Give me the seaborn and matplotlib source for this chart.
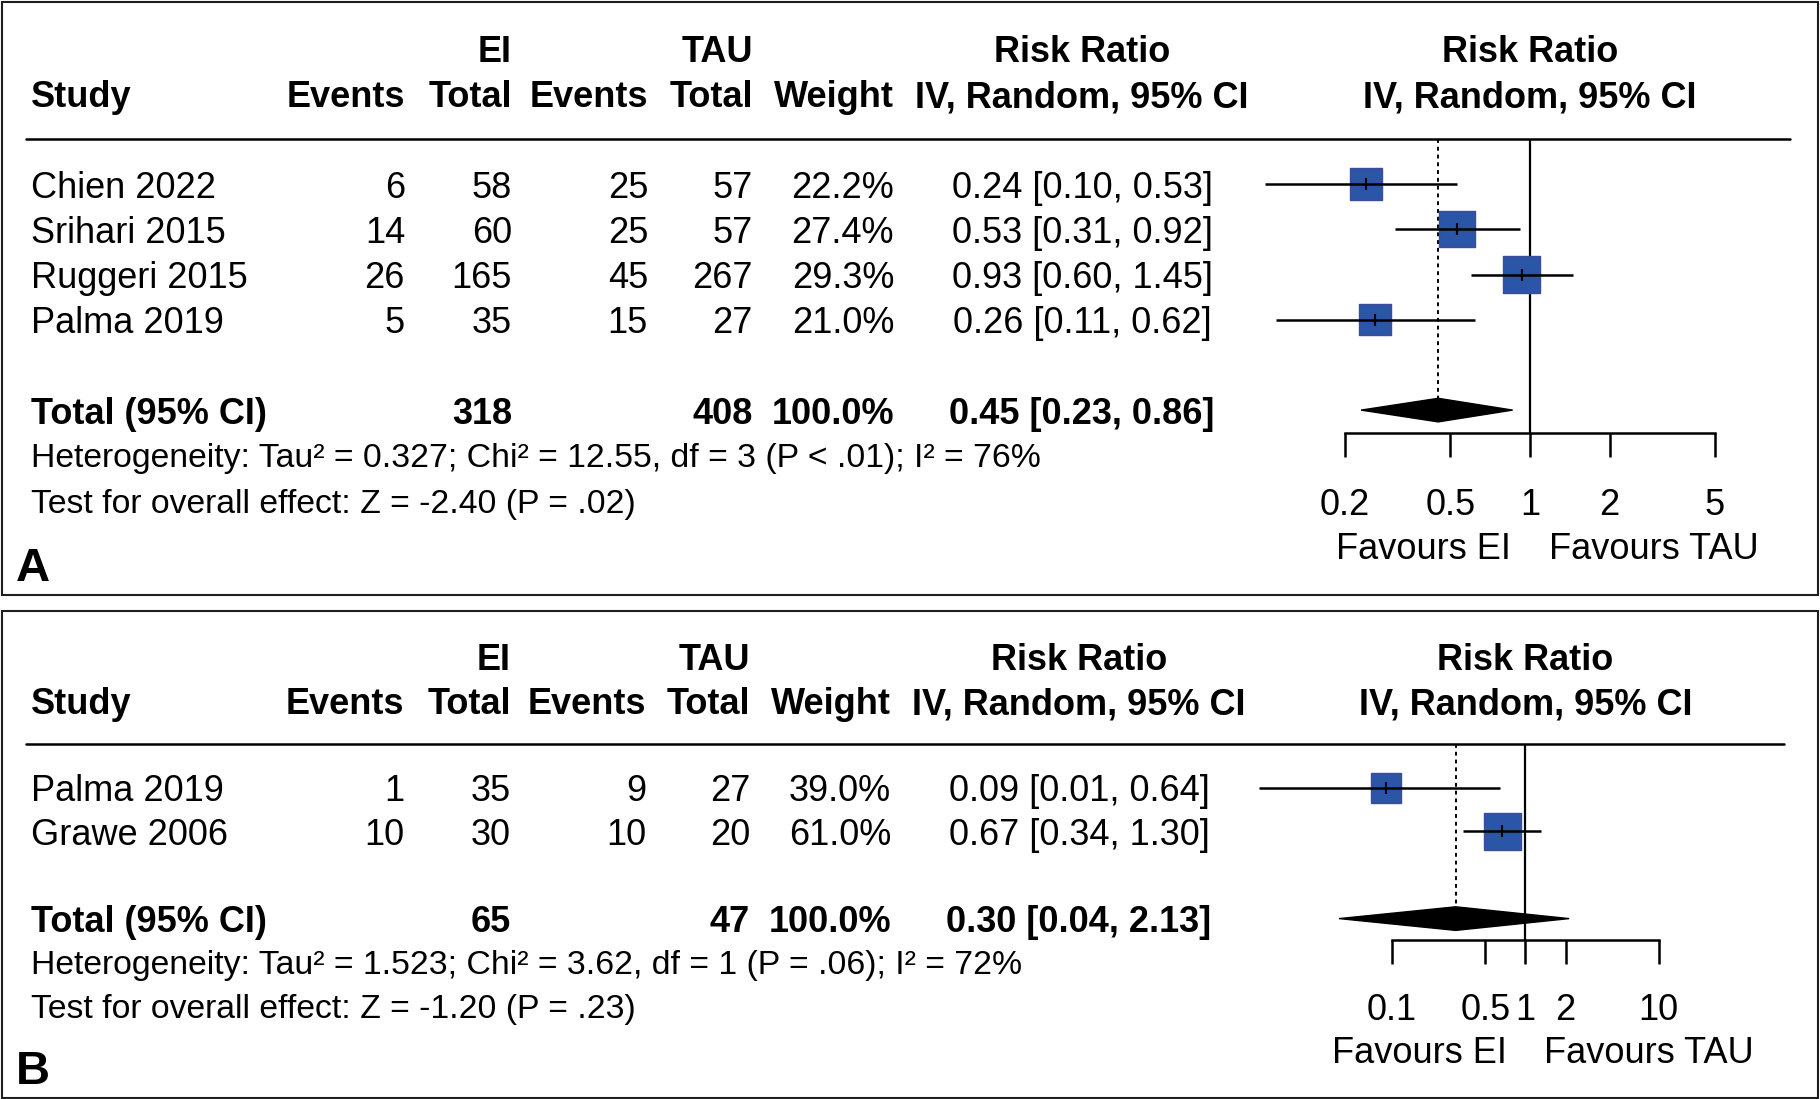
import numpy as np
import matplotlib.pyplot as plt
import matplotlib.transforms as mtransforms
from matplotlib.patches import Rectangle
from matplotlib.ticker import NullLocator
import seaborn as sns

sns.set_theme(style='white')
plt.rcParams['font.family'] = ['Liberation Sans', 'DejaVu Sans']
plt.rcParams['text.color'] = 'black'

W, H = 1820, 1099

# ---- panel A
a_study = ['Chien 2022', 'Srihari 2015', 'Ruggeri 2015', 'Palma 2019']
a_ei_events = [6, 14, 26, 5]
a_ei_total = [58, 60, 165, 35]
a_tau_events = [25, 25, 45, 15]
a_tau_total = [57, 57, 267, 27]
a_weight = [22.2, 27.4, 29.3, 21.0]
a_rr = [0.24, 0.53, 0.93, 0.26]
a_lo = [0.10, 0.31, 0.60, 0.11]
a_hi = [0.53, 0.92, 1.45, 0.62]
a_pooled = [0.45, 0.23, 0.86]
a_sums = [318, 408]
a_het = 'Heterogeneity: Tau² = 0.327; Chi² = 12.55, df = 3 (P < .01); I² = 76%'
a_test = 'Test for overall effect: Z = -2.40 (P = .02)'
a_ticks = [0.2, 0.5, 1, 2, 5]

# ---- panel B
b_study = ['Palma 2019', 'Grawe 2006']
b_ei_events = [1, 10]
b_ei_total = [35, 30]
b_tau_events = [9, 10]
b_tau_total = [27, 20]
b_weight = [39.0, 61.0]
b_rr = [0.09, 0.67]
b_lo = [0.01, 0.34]
b_hi = [0.64, 1.30]
b_pooled = [0.30, 0.04, 2.13]
b_sums = [65, 47]
b_het = 'Heterogeneity: Tau² = 1.523; Chi² = 3.62, df = 1 (P = .06); I² = 72%'
b_test = 'Test for overall effect: Z = -1.20 (P = .23)'
b_ticks = [0.1, 0.5, 1, 2, 10]

FS = 26
FS_NOTE = 24.3
BLUE = '#2b55a7'
EDGE = '#3f4c9a'

# pixel layout of each panel
lay_a = dict(letter='A', top=1.5, bot=595, y0=48.5, dy=45.2, xn=1530, ppd=264.7,
             cols=[405, 512, 648, 753, 894], rr_c=1082, hl=(26, 1790))
lay_b = dict(letter='B', top=611, bot=1097.5, y0=657, dy=43.6, xn=1525.4, ppd=133.3,
             cols=[404, 511, 646, 750, 891], rr_c=1079, hl=(26, 1784))


def draw_panel(fig, lay, study, ei_ev, ei_tot, tau_ev, tau_tot, weight, rr, lo, hi,
               pooled, sums, het, test, ticks):
    x0, x1 = 1240, 1800
    top, bot, y0, dy = lay['top'], lay['bot'], lay['y0'], lay['dy']
    ax = fig.add_axes([x0 / W, 1 - bot / H, (x1 - x0) / W, (bot - top) / H])
    ax.patch.set_visible(False)
    tr = mtransforms.blended_transform_factory(fig.transFigure, ax.transData)

    def txt(px, row, s, ha='left', bold=False, size=FS):
        ax.text(px / W, row, s, transform=tr, ha=ha, va='center_baseline',
                fontsize=size, fontweight='bold' if bold else 'normal', color='black')

    n = len(study)
    rows = np.arange(3, 3 + n)
    tot_row = 3 + n + 1
    axis_row = tot_row + 0.5
    test_row = tot_row + 2
    dh = 11.8 / dy

    # panel border
    fig.add_artist(Rectangle((1.5 / W, 1 - bot / H), 1816 / W, (bot - top) / H,
                             transform=fig.transFigure, fill=False, ec='#1e1e1e', lw=1.5))

    # header
    cols, rc = lay['cols'], lay['rr_c']
    txt(cols[1], 0, 'EI', 'right', True)
    txt(cols[3], 0, 'TAU', 'right', True)
    txt(rc, 0, 'Risk Ratio', 'center', True)
    txt(lay['xn'], 0, 'Risk Ratio', 'center', True)
    txt(31, 1, 'Study', 'left', True)
    for c, s in zip(cols, ['Events', 'Total', 'Events', 'Total', 'Weight']):
        txt(c, 1, s, 'right', True)
    txt(rc, 1, 'IV, Random, 95% CI', 'center', True)
    txt(lay['xn'], 1, 'IV, Random, 95% CI', 'center', True)
    ax.plot([lay['hl'][0] / W, lay['hl'][1] / W], [2, 2], transform=tr,
            color='black', lw=1.8, clip_on=False)

    # study rows
    for i, r in enumerate(rows):
        txt(31, r, study[i])
        vals = [ei_ev[i], ei_tot[i], tau_ev[i], tau_tot[i], f'{weight[i]:.1f}%']
        for c, v in zip(cols, vals):
            txt(c, r, str(v), 'right')
        txt(rc, r, f'{rr[i]:.2f} [{lo[i]:.2f}, {hi[i]:.2f}]', 'center')

    txt(31, tot_row, 'Total (95% CI)', bold=True)
    txt(cols[1], tot_row, str(sums[0]), 'right', True)
    txt(cols[3], tot_row, str(sums[1]), 'right', True)
    txt(cols[4], tot_row, '100.0%', 'right', True)
    txt(rc, tot_row, f'{pooled[0]:.2f} [{pooled[1]:.2f}, {pooled[2]:.2f}]', 'center', True)
    txt(31, tot_row + 1, het, size=FS_NOTE)
    txt(31, tot_row + 2, test, size=FS_NOTE)
    txt(16, test_row + 1.4, lay['letter'], bold=True, size=34)

    # forest
    side_pt = 37 * np.sqrt(np.array(weight) / max(weight)) * 72 / 100
    sns.scatterplot(x=rr, y=rows, marker='s', s=side_pt ** 2, color=BLUE,
                    edgecolor=EDGE, linewidth=1, legend=False, ax=ax, zorder=3)
    ax.hlines(rows, lo, hi, color='black', lw=1.8, zorder=4)
    ax.scatter(rr, rows, marker='|', s=75, color='black', linewidths=1.5, zorder=5)
    ax.vlines(1, 2, axis_row, color='black', lw=1.6, zorder=2)
    ax.vlines(pooled[0], 2, tot_row - dh, color='black', lw=1.4,
              linestyles=(0, (2, 2)), zorder=2)
    ax.fill([pooled[1], pooled[0], pooled[2], pooled[0]],
            [tot_row, tot_row - dh, tot_row, tot_row + dh], color='black', zorder=4)

    ax.set_xscale('log')
    ax.set_xlim(10 ** ((x0 - lay['xn']) / lay['ppd']), 10 ** ((x1 - lay['xn']) / lay['ppd']))
    ax.set_ylim((bot - y0) / dy, (top - y0) / dy)
    ax.set_xlabel('')
    ax.set_ylabel('')
    ax.set_yticks([])
    ax.xaxis.set_minor_locator(NullLocator())
    ax.set_xticks(ticks)
    ax.set_xticklabels([f'{t:g}' for t in ticks])
    for s in ['top', 'left', 'right']:
        ax.spines[s].set_visible(False)
    sp = ax.spines['bottom']
    sp.set_position(('data', axis_row))
    sp.set_bounds(ticks[0], ticks[-1])
    sp.set_linewidth(1.8)
    sp.set_color('black')
    pad_px = (test_row - axis_row) * dy - 24 - 12.9
    ax.tick_params(axis='x', bottom=True, direction='out', length=24 * 0.72, width=1.8,
                   color='black', labelcolor='black', labelsize=FS, pad=pad_px * 0.72)

    txt(lay['xn'] - 19, test_row + 1, 'Favours EI', 'right')
    txt(lay['xn'] + 19, test_row + 1, 'Favours TAU', 'left')
    return ax


fig = plt.figure(figsize=(W / 100, H / 100), dpi=100)
draw_panel(fig, lay_a, a_study, a_ei_events, a_ei_total, a_tau_events, a_tau_total,
           a_weight, a_rr, a_lo, a_hi, a_pooled, a_sums, a_het, a_test, a_ticks)
draw_panel(fig, lay_b, b_study, b_ei_events, b_ei_total, b_tau_events, b_tau_total,
           b_weight, b_rr, b_lo, b_hi, b_pooled, b_sums, b_het, b_test, b_ticks)
fig.savefig('out.png', dpi=100, facecolor='white')
